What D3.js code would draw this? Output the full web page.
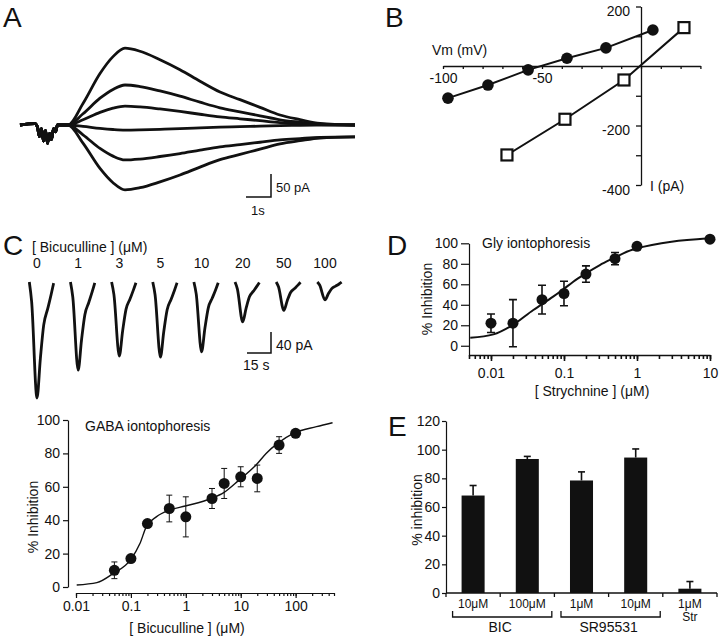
<!DOCTYPE html>
<html>
<head>
<meta charset="utf-8">
<script src="https://cdn.jsdelivr.net/npm/d3@7"></script>
<style>
  body { margin: 0; background: #fff; }
  svg { display: block; font-family: "Liberation Sans", Arial, Helvetica, sans-serif; }
</style>
</head>
<body>
<div id="fig"></div>
<script>
// ---------------- data ----------------
// A: whole-cell currents, common time course (s)
var aTime  = [1.92, 2.52, 3.2, 3.72, 4.2, 4.8, 5.6, 6.4, 7.2, 8.0, 8.8, 9.6, 10.4, 11.2, 12.0, 13.4];
var aShape = [0, 0.28, 0.67, 0.89, 1.0, 0.96, 0.85, 0.72, 0.57, 0.43, 0.33, 0.23, 0.13, 0.07, 0.02, 0];
// stimulus artifact before the response (s, pA)
var aArtTime = [0, 0.6, 0.7, 0.78, 0.86, 0.94, 1.02, 1.1, 1.18, 1.26, 1.34, 1.42, 1.5];
var aArtVal  = [0, 3, -5, -25, -8, -35, -12, -40, -18, -32, -8, -15, 0];
var aPeak = [167, 87, 41, -11, -76, -141];   // pA
var aTail = [0, 0, 0, 0, -26, -26];           // pA, residual at end of sweep

// B: I-V relation
var bCircV = [-97.5, -77.3, -57, -37.4, -17.7, 6];
var bCircI = [-108, -64, -13, 26, 61, 121];
var bSqV = [-67.7, -38.4, -8.6, 21.7];
var bSqI = [-299, -179, -47, 129];

// C: GABA currents at each bicuculline concentration
var cConc = ["0", "1", "3", "5", "10", "20", "50", "100"];
var cAmp  = [221, 168, 141, 143, 133, 76, 54, 34];     // pA
var cTime  = [0, 1.45, 4.8, 6.9, 9, 11.5, 13.6, 15.2];  // s
var cShape = [0, 0.17, 1, 0.66, 0.37, 0.23, 0.11, 0.01];

// C: dose-response, GABA iontophoresis
var gabaConc = [0.05, 0.1, 0.2, 0.5, 1, 3, 5, 10, 20, 50, 100];
var gabaInh  = [10, 17, 38, 47, 42, 53, 62, 66, 65, 85, 92];
var gabaErr  = [5, 2, 2, 8, 12, 6, 9, 6, 8, 5, 2];
var gabaFitConc = [0.0103, 0.024, 0.048, 0.1, 0.146, 0.19, 0.29, 0.5, 0.98, 2.9, 4.9, 9.3, 19, 29, 47, 91, 240, 470];
var gabaFitInh  = [1.2, 2.6, 8.2, 16.6, 26, 36, 42, 46, 48.5, 53, 56.5, 64, 73, 80, 86, 92, 96, 98.4];

// D: dose-response, Gly iontophoresis
var glyConc = [0.01, 0.02, 0.05, 0.1, 0.2, 0.5, 1, 10];
var glyInh  = [22, 22, 45, 51, 70, 85, 97, 104];
var glyErr  = [9, 23, 14, 12, 8, 6, 0, 0];
var glyFitConc = [0.0052, 0.0108, 0.0198, 0.038, 0.048, 0.071, 0.095, 0.134, 0.19, 0.31, 0.47, 0.65, 0.92, 9.6];
var glyFitInh  = [7.8, 11.1, 20.2, 34.9, 39.7, 47.9, 54.4, 62.5, 69.7, 78.8, 85.3, 90.2, 94.4, 104.9];

// E: bar chart
var eKeys   = ["BIC10", "BIC100", "SR1", "SR10", "Str1"];
var eLabels = [["10\u03bcM"], ["100\u03bcM"], ["1\u03bcM"], ["10\u03bcM"], ["1\u03bcM", "Str"]];
var eVal = [68, 93.5, 78.5, 94.5, 3];
var eErr = [7, 1.8, 6, 6, 5];
var eGroups = [["BIC", 0, 1], ["SR95531", 2, 3]];

// ---------------- drawing ----------------
var svg = d3.select("#fig").append("svg")
    .attr("width", 720).attr("height", 637);

var ink = "#111";

// panel letters
[["A", 3, 27], ["B", 385, 27], ["C", 3, 255], ["D", 387, 255], ["E", 388, 436]].forEach(function(l) {
    svg.append("text").attr("x", l[1]).attr("y", l[2])
        .attr("font-size", 28).attr("fill", ink).text(l[0]);
});

function txt(g, x, y, s, size, anchor) {
    return g.append("text").attr("x", x).attr("y", y)
        .attr("font-size", size || 14)
        .attr("text-anchor", anchor || "start")
        .attr("fill", ink).text(s);
}

// axis look: drop d3's own font so the page font is used
function styleAxis(g) {
    g.attr("font-family", null).attr("font-size", null);
    g.selectAll("text").attr("font-size", 14).attr("fill", ink);
    g.selectAll("line,path").attr("stroke", ink).attr("stroke-width", 1.2);
}

// ===== A =====
var gA = svg.append("g");
var xA = d3.scaleLinear().domain([0, 13.4]).range([20, 355]);
var yA = d3.scaleLinear().domain([0, 50]).range([125, 102]);
var lineA = d3.line().x(function(d) { return xA(d[0]); })
    .y(function(d) { return yA(d[1]); }).curve(d3.curveMonotoneX);
var peakIdx = aShape.indexOf(1);

aPeak.forEach(function(p, k) {
    var pts = aArtTime.map(function(t, i) { return [t, aArtVal[i]]; });
    aTime.forEach(function(t, i) {
        var v = p * aShape[i];
        if (i > peakIdx) v += aTail[k] * (1 - aShape[i]);
        pts.push([t, v]);
    });
    gA.append("path").attr("d", lineA(pts))
        .attr("fill", "none").attr("stroke", ink)
        .attr("stroke-width", 2.8).attr("stroke-linejoin", "round");
});

// scale bar 1 s / 50 pA
var sbAx = 271, sbAy = 197;
gA.append("path")
    .attr("d", "M" + (sbAx - (xA(1) - xA(0))) + "," + sbAy + "H" + sbAx +
               "V" + (sbAy - (yA(0) - yA(50))))
    .attr("fill", "none").attr("stroke", ink).attr("stroke-width", 1.5);
txt(gA, 276, 192, "50 pA", 13);
txt(gA, 251, 215, "1s", 13);

// ===== B =====
var gB = svg.append("g");
var xB = d3.scaleLinear().domain([-100, 30]).range([443, 700.4]);
var yB = d3.scaleLinear().domain([-400, 200]).range([185, 6.5]);

gB.append("g").attr("transform", "translate(0," + yB(0) + ")")
    .call(d3.axisBottom(xB).tickValues(d3.range(-100, 31, 10)).tickSize(3).tickSizeOuter(0)
        .tickPadding(4)
        .tickFormat(function(d) { return (d === -100 || d === -50) ? d : ""; }))
    .call(styleAxis)
    .call(function(g) { g.selectAll("line,path").attr("stroke-width", 1.3); });

gB.append("g").attr("transform", "translate(" + xB(0) + ",0)")
    .call(d3.axisLeft(yB).tickValues([-400, -300, -200, -100, 100, 200]).tickSize(5).tickSizeOuter(0)
        .tickPadding(6)
        .tickFormat(function(d) { return (d === 200 || d === -200 || d === -400) ? d : ""; }))
    .call(styleAxis)
    .call(function(g) {
        g.selectAll("text").attr("dy", "0.65em");
        g.selectAll("line,path").attr("stroke-width", 1.3);
    });

txt(gB, 432, 55, "Vm (mV)", 14);
txt(gB, 650, 191, "I (pA)", 14);

var lineB = d3.line().x(function(d) { return xB(d[0]); }).y(function(d) { return yB(d[1]); });
var circB = bCircV.map(function(v, i) { return [v, bCircI[i]]; });
var sqB = bSqV.map(function(v, i) { return [v, bSqI[i]]; });

gB.append("path").attr("d", lineB(circB)).attr("fill", "none")
    .attr("stroke", ink).attr("stroke-width", 2);
gB.append("path").attr("d", lineB(sqB)).attr("fill", "none")
    .attr("stroke", ink).attr("stroke-width", 2);
gB.selectAll("circle.iv").data(circB).enter().append("circle")
    .attr("cx", function(d) { return xB(d[0]); })
    .attr("cy", function(d) { return yB(d[1]); })
    .attr("r", 5.8).attr("fill", ink);
gB.selectAll("rect.iv").data(sqB).enter().append("rect")
    .attr("x", function(d) { return xB(d[0]) - 5.5; })
    .attr("y", function(d) { return yB(d[1]) - 5.5; })
    .attr("width", 11).attr("height", 11)
    .attr("fill", "#fff").attr("stroke", ink).attr("stroke-width", 2.2);

// ===== C traces =====
var gC = svg.append("g");
txt(gC, 32, 252, "[ Bicuculline ] (\u03bcM)", 14);
var xC0 = d3.scalePoint().domain(cConc).range([37, 325]);
var tC = d3.scaleLinear().domain([0, 15]).range([0, 24]);
var yC0 = d3.scaleLinear().domain([0, 40]).range([282, 303]);

cConc.forEach(function(c, k) {
    txt(gC, xC0(c), 268, c, 14, "middle");
    var x0 = xC0(c) - tC(4.8);
    var line = d3.line()
        .x(function(d, i) { return x0 + tC(cTime[i]); })
        .y(function(d) { return yC0(d * cAmp[k]); })
        .curve(d3.curveMonotoneX);
    gC.append("path").attr("d", line(cShape))
        .attr("fill", "none").attr("stroke", ink)
        .attr("stroke-width", 2.8).attr("stroke-linejoin", "round");
});

// scale bar 15 s / 40 pA
var sbCx = 271, sbCy = 353;
gC.append("path")
    .attr("d", "M" + (sbCx - tC(15)) + "," + sbCy + "H" + sbCx +
               "V" + (sbCy - (yC0(40) - yC0(0))))
    .attr("fill", "none").attr("stroke", ink).attr("stroke-width", 1.5);
txt(gC, 276, 350, "40 pA", 14);
txt(gC, 243, 370, "15 s", 14);

// ===== C dose-response =====
var gC2 = svg.append("g");
var xC = d3.scaleLog().domain([0.01, 500]).range([76, 334]);
var yC = d3.scaleLinear().domain([0, 100]).range([587, 420]);

gC2.append("g").attr("transform", "translate(68,0)")
    .call(d3.axisLeft(yC).tickValues([0, 20, 40, 60, 80, 100]).tickSize(5).tickSizeOuter(0).tickPadding(3))
    .call(styleAxis);
gC2.append("g").attr("transform", "translate(0,593)")
    .call(d3.axisBottom(xC).tickValues(xC.ticks()).tickSize(3).tickSizeOuter(0).tickFormat(""))
    .call(styleAxis);
gC2.append("g").attr("transform", "translate(0,593)")
    .call(d3.axisBottom(xC).tickValues([0.01, 0.1, 1, 10, 100]).tickSize(5).tickSizeOuter(0)
        .tickPadding(3).tickFormat(d3.format("~g")))
    .call(styleAxis)
    .call(function(g) { g.select(".domain").remove(); });

txt(gC2, 187, 633, "[ Bicuculline ] (\u03bcM)", 14, "middle");
txt(gC2, 0, 0, "% Inhibition", 14, "middle")
    .attr("transform", "translate(38,517) rotate(-90)");
txt(gC2, 85, 431, "GABA iontophoresis", 14);

var fitC = gabaFitConc.map(function(c, i) { return [c, gabaFitInh[i]]; });
gC2.append("path")
    .attr("d", d3.line().x(function(d) { return xC(d[0]); }).y(function(d) { return yC(d[1]); })
        .curve(d3.curveMonotoneX)(fitC))
    .attr("fill", "none").attr("stroke", ink).attr("stroke-width", 1.4);

gabaConc.forEach(function(c, i) {
    var x = xC(c), y1 = yC(gabaInh[i] - gabaErr[i]), y2 = yC(gabaInh[i] + gabaErr[i]);
    gC2.append("path")
        .attr("d", "M" + x + "," + y1 + "V" + y2 + "M" + (x - 3) + "," + y1 + "h6M" + (x - 3) + "," + y2 + "h6")
        .attr("stroke", ink).attr("stroke-width", 1).attr("fill", "none");
    gC2.append("circle").attr("cx", x).attr("cy", yC(gabaInh[i])).attr("r", 5.5).attr("fill", ink);
});

// ===== D =====
var gD = svg.append("g");
var xD = d3.scaleLog().domain([0.005, 10]).range([469, 710]);
var yD = d3.scaleLinear().domain([-10, 100]).range([356, 243.3]);

gD.append("g").attr("transform", "translate(469,0)")
    .call(d3.axisLeft(yD).tickValues([0, 20, 40, 60, 80, 100]).tickSize(8).tickSizeOuter(0).tickPadding(3))
    .call(styleAxis);
gD.append("g").attr("transform", "translate(0,355)")
    .call(d3.axisBottom(xD).tickValues(xD.ticks()).tickSize(4).tickSizeOuter(0).tickFormat(""))
    .call(styleAxis)
    .call(function(g) { g.selectAll("line,path").attr("stroke-width", 1.6); });
gD.append("g").attr("transform", "translate(0,355)")
    .call(d3.axisBottom(xD).tickValues([0.01, 0.1, 1, 10]).tickSize(6).tickSizeOuter(0)
        .tickPadding(7).tickFormat(d3.format("~g")))
    .call(styleAxis)
    .call(function(g) {
        g.select(".domain").remove();
        g.selectAll("line").attr("stroke-width", 1.6);
    });

txt(gD, 592, 396, "[ Strychnine ] (\u03bcM)", 14, "middle");
txt(gD, 0, 0, "% Inhibition", 14, "middle")
    .attr("transform", "translate(432,299) rotate(-90)");
txt(gD, 482, 248, "Gly iontophoresis", 14);

var fitD = glyFitConc.map(function(c, i) { return [c, glyFitInh[i]]; });
gD.append("path")
    .attr("d", d3.line().x(function(d) { return xD(d[0]); }).y(function(d) { return yD(d[1]); })
        .curve(d3.curveMonotoneX)(fitD))
    .attr("fill", "none").attr("stroke", ink).attr("stroke-width", 2);

glyConc.forEach(function(c, i) {
    var x = xD(c);
    if (glyErr[i] > 0) {
        var y1 = yD(glyInh[i] - glyErr[i]), y2 = yD(glyInh[i] + glyErr[i]);
        gD.append("path")
            .attr("d", "M" + x + "," + y1 + "V" + y2 + "M" + (x - 4) + "," + y1 + "h8M" + (x - 4) + "," + y2 + "h8")
            .attr("stroke", ink).attr("stroke-width", 1.6).attr("fill", "none");
    }
    gD.append("circle").attr("cx", x).attr("cy", yD(glyInh[i])).attr("r", 5.5).attr("fill", ink);
});

// ===== E =====
var gE = svg.append("g");
var xE = d3.scaleBand().domain(eKeys).range([446, 717]).paddingInner(0.575).paddingOuter(0.2875);
var yE = d3.scaleLinear().domain([0, 120]).range([593, 421]);

gE.append("g").attr("transform", "translate(446,0)")
    .call(d3.axisLeft(yE).tickValues(d3.range(0, 121, 20)).tickSize(4).tickSizeOuter(0).tickPadding(2))
    .call(styleAxis);

// x axis with ticks at the band boundaries
var bounds = eKeys.map(function(k) { return xE(k) - xE.step() * xE.paddingInner() / 2; });
bounds.push(xE.range()[1]);
gE.append("line").attr("x1", 446).attr("x2", 717).attr("y1", 593).attr("y2", 593)
    .attr("stroke", ink).attr("stroke-width", 1.3);
bounds.forEach(function(b) {
    gE.append("line").attr("x1", b).attr("x2", b).attr("y1", 593).attr("y2", 597)
        .attr("stroke", ink).attr("stroke-width", 1.3);
});

eKeys.forEach(function(k, i) {
    var x = xE(k), w = xE.bandwidth(), cx = x + w / 2;
    gE.append("line").attr("x1", cx).attr("x2", cx)
        .attr("y1", yE(eVal[i])).attr("y2", yE(eVal[i] + eErr[i]))
        .attr("stroke", ink).attr("stroke-width", 1.6);
    gE.append("line").attr("x1", cx - 3.5).attr("x2", cx + 3.5)
        .attr("y1", yE(eVal[i] + eErr[i])).attr("y2", yE(eVal[i] + eErr[i]))
        .attr("stroke", ink).attr("stroke-width", 1.6);
    gE.append("rect").attr("x", x).attr("y", yE(eVal[i]))
        .attr("width", w).attr("height", yE(0) - yE(eVal[i])).attr("fill", ink);
    eLabels[i].forEach(function(s, j) {
        txt(gE, cx, 608 + j * 13, s, 12, "middle");
    });
});

// group brackets under the category labels
eGroups.forEach(function(grp) {
    var x1 = xE(eKeys[grp[1]]) - 9, x2 = xE(eKeys[grp[2]]) + xE.bandwidth() + 13;
    gE.append("path").attr("d", "M" + x1 + ",611V617H" + x2 + "V611")
        .attr("fill", "none").attr("stroke", ink).attr("stroke-width", 1.3);
    txt(gE, (x1 + x2) / 2 - 2, 632, grp[0], 14, "middle");
});

txt(gE, 0, 0, "% inhibition", 14, "middle")
    .attr("transform", "translate(422,510) rotate(-90)");
</script>
</body>
</html>
